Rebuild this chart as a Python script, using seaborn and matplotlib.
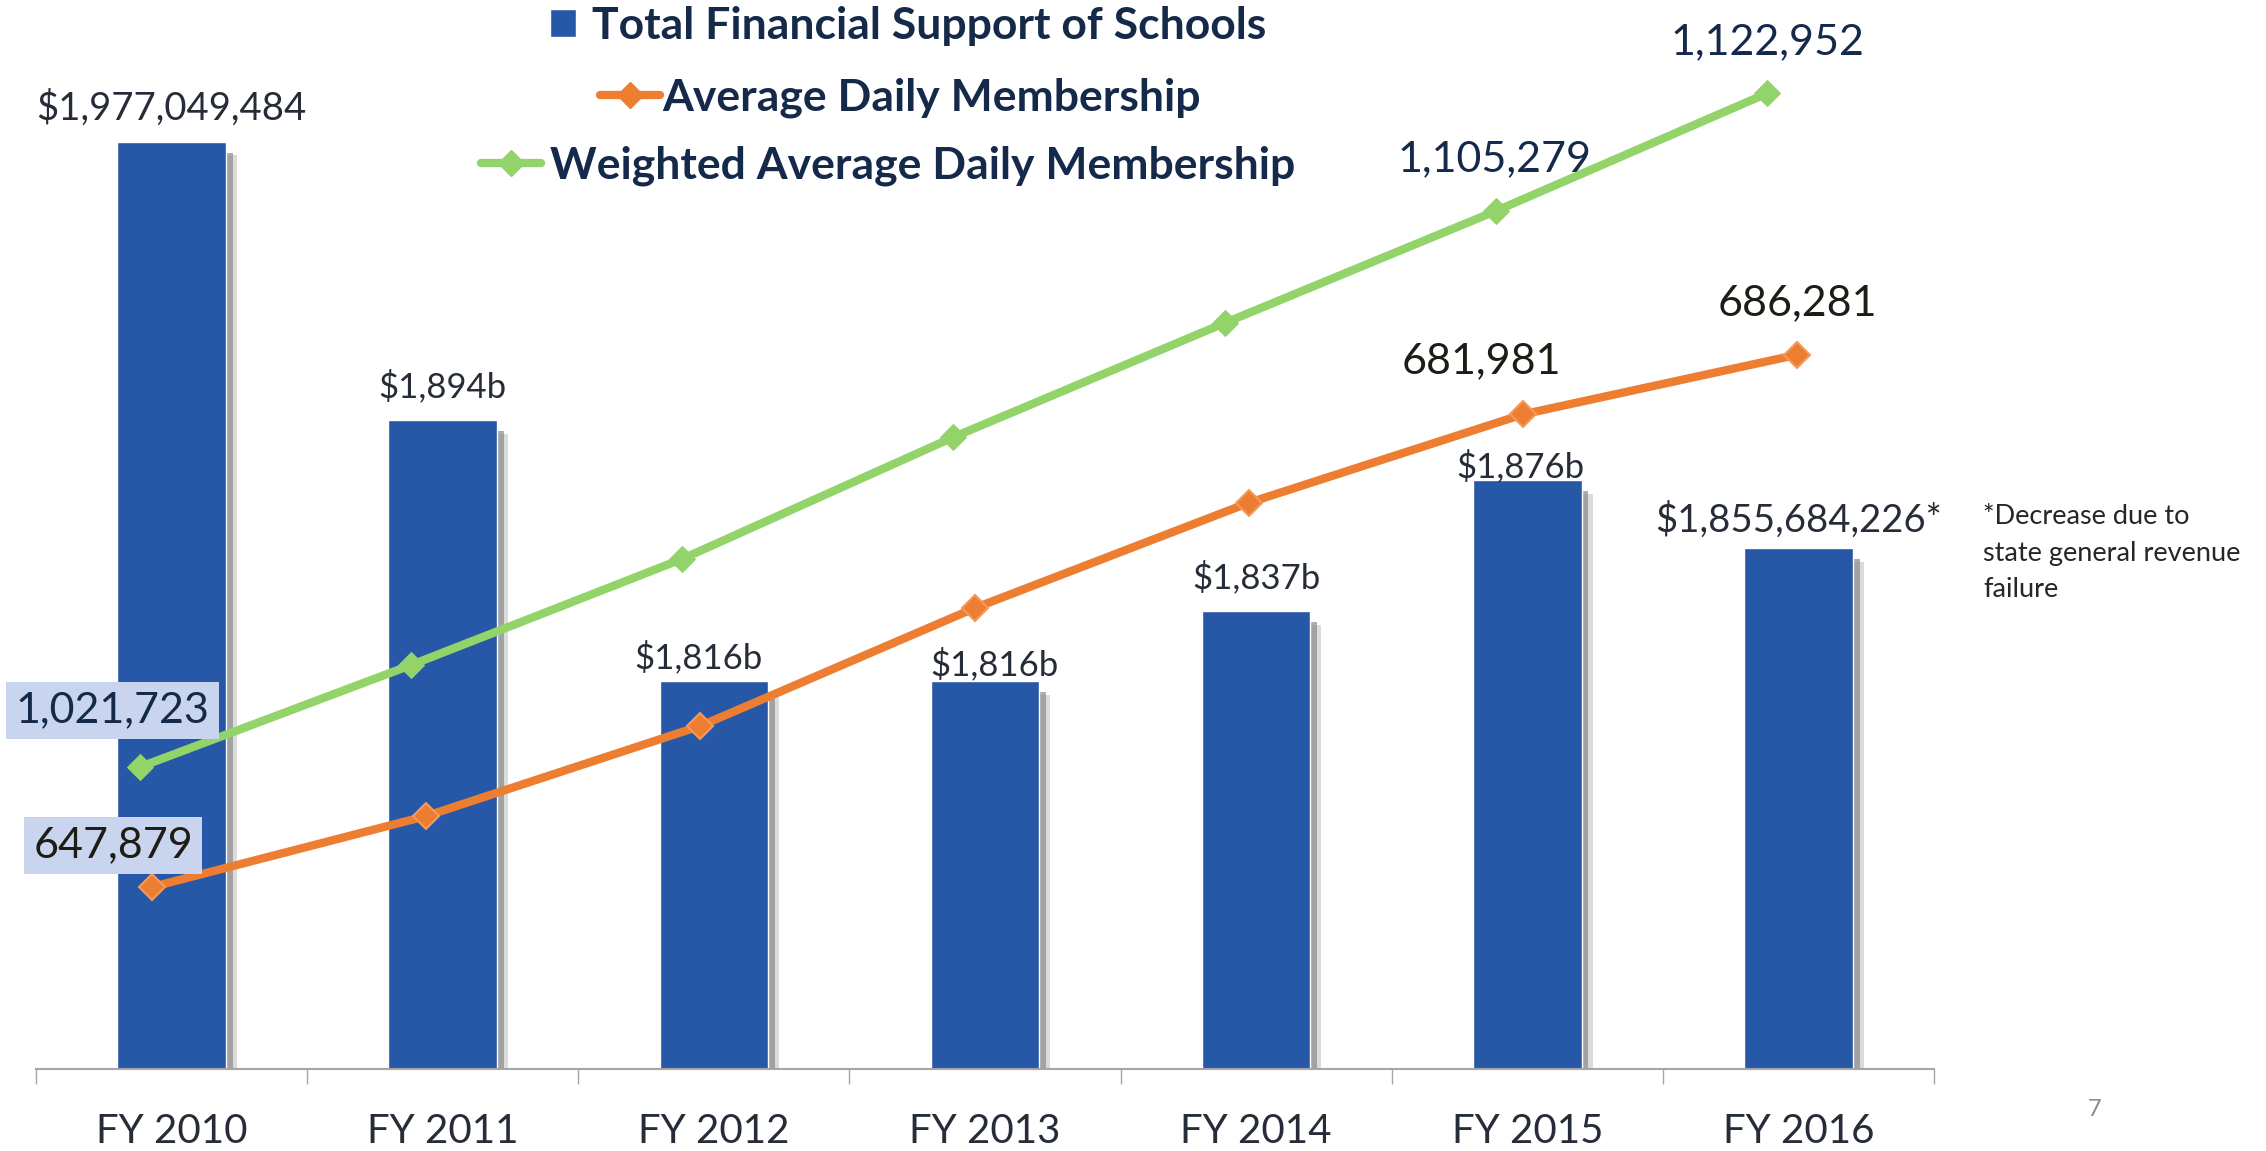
import matplotlib
matplotlib.use('Agg')
import matplotlib.pyplot as plt
import matplotlib.patheffects as pe
from matplotlib.lines import Line2D
from matplotlib.patches import Patch
import seaborn as sns
import pandas as pd
import numpy as np

# ---- data ----
years = ['FY 2010', 'FY 2011', 'FY 2012', 'FY 2013', 'FY 2014', 'FY 2015', 'FY 2016']
support = [1977049484, 1894e6, 1816e6, 1816e6, 1837e6, 1876e6, 1855684226]
support_labels = ['$1,977,049,484', '$1,894b', '$1,816b', '$1,816b',
                  '$1,837b', '$1,876b', '$1,855,684,226*']
adm = [647879, 653000, 659500, 668000, 675600, 681981, 686281]
wadm = [1021723, 1037050, 1053000, 1071300, 1088450, 1105279, 1122952]

# which points carry a label on the slide
adm_labels = {0: '647,879', 5: '681,981', 6: '686,281'}
wadm_labels = {0: '1,021,723', 5: '1,105,279', 6: '1,122,952'}

BLUE = '#2757A7'
ORANGE = '#ED7D31'
GREEN = '#92D36A'
NAVY = '#15294A'
DARK = '#262D38'

W, H = 2266, 1151

sns.set_theme(style='white')
plt.rcParams['font.family'] = ['Lato', 'DejaVu Sans']

fig = plt.figure(figsize=(W / 100, H / 100), dpi=100)
rect = [36 / W, 82 / H, 1898 / W, 1069 / H]

# ---- bars ----
ax = fig.add_axes(rect)
df = pd.DataFrame({'year': years, 'support': support})
sns.barplot(data=df, x='year', y='support', color=BLUE, saturation=1,
            width=0.4, errorbar=None, ax=ax)
for p in ax.patches:
    p.set_path_effects([
        pe.SimplePatchShadow(offset=(8, -10), shadow_rgbFace='#b0b0b0', alpha=0.45),
        pe.SimplePatchShadow(offset=(5, -8), shadow_rgbFace='#8a8a8a', alpha=0.7),
        pe.Normal()])

ax.set_xlim(-0.5, 6.5)
ax.set_ylim(1700.2e6, 2019.3e6)
ax.set_yticks([])
ax.set_xlabel('')
ax.set_ylabel('')
for s in ['top', 'right', 'left']:
    ax.spines[s].set_visible(False)
ax.spines['bottom'].set_color('#A6A6A6')
ax.spines['bottom'].set_linewidth(1.5)
ax.set_xticks(np.arange(-0.5, 7, 1), minor=True)
ax.tick_params(axis='x', which='major', bottom=False, length=0, pad=32,
               labelsize=29, labelcolor=DARK)
ax.tick_params(axis='x', which='minor', bottom=True, length=11, width=1,
               color='#A6A6A6', direction='out')

bar_offsets = [(0, 24), (0, 24), (-11, 17), (7, 12), (0, 24), (-5, 10), (0, 20)]
for i, (v, lbl) in enumerate(zip(support, support_labels)):
    size = 27.5 if len(lbl) > 8 else 25
    ax.annotate(lbl, xy=(i, v), xytext=bar_offsets[i], textcoords='offset points',
                ha='center', va='center', fontsize=size, color=DARK)

# ---- weighted ADM line (own axes) ----
ax3 = fig.add_axes(rect)
sns.lineplot(x=list(range(7)), y=wadm, ax=ax3, color=GREEN, lw=6, marker='D',
             markersize=13, markeredgecolor=GREEN)
ax3.set_xlim(-0.3835, 6.616)
ax3.set_ylim(976337, 1136992)
ax3.axis('off')

# ---- ADM line (own axes) ----
ax2 = fig.add_axes(rect)
sns.lineplot(x=list(range(7)), y=adm, ax=ax2, color=ORANGE, lw=6, marker='D',
             markersize=13, markeredgecolor='#F39A5A', markeredgewidth=1.5)
ax2.set_xlim(-0.423, 6.499)
ax2.set_ylim(634748, 711876)
ax2.axis('off')

box = dict(boxstyle='square,pad=0.22', fc='#C9D5EE', ec='none')
wadm_offsets = {0: (-20, 41), 5: (-1, 37), 6: (0, 37)}
for i, lbl in wadm_labels.items():
    ax3.annotate(lbl, xy=(i, wadm[i]), xytext=wadm_offsets[i], textcoords='offset points',
                 ha='center', va='center', fontsize=31, color=NAVY,
                 bbox=box if i == 0 else None)
adm_offsets = {0: (-28, 30), 5: (-30, 38), 6: (0, 37)}
for i, lbl in adm_labels.items():
    ax2.annotate(lbl, xy=(i, adm[i]), xytext=adm_offsets[i], textcoords='offset points',
                 ha='center', va='center', fontsize=31, color='#1E1C14',
                 bbox=box if i == 0 else None)

# ---- legend: three centred rows ----
legend_rows = [
    (Patch(facecolor=BLUE), 'Total Financial Support of Schools', (908, 26),
     dict(handlelength=0.6, handleheight=0.6, handletextpad=0.35)),
    (Line2D([], [], color=ORANGE, lw=6, marker='D', ms=13), 'Average Daily Membership', (900, 98),
     dict(handlelength=1.35, handletextpad=0.05)),
    (Line2D([], [], color=GREEN, lw=6, marker='D', ms=13), 'Weighted Average Daily Membership', (888, 166),
     dict(handlelength=1.35, handletextpad=0.2)),
]
for h, lbl, (cx, cy), kw in legend_rows:
    fig.legend([h], [lbl], loc='center', bbox_to_anchor=(cx / W, 1 - cy / H),
               frameon=False, prop={'weight': 'bold', 'size': 32}, labelcolor=NAVY,
               borderpad=0, borderaxespad=0, **kw)

# ---- notes ----
fig.text(1983 / W, 1 - 504 / H, '*Decrease due to\nstate general revenue\nfailure',
         ha='left', va='top', fontsize=19.5, color='#262626', linespacing=1.58)
fig.text(2095 / W, 1 - 1110 / H, '7', ha='center', va='center', fontsize=17, color='#8C8C8C')

fig.savefig('out.png', dpi=100)
